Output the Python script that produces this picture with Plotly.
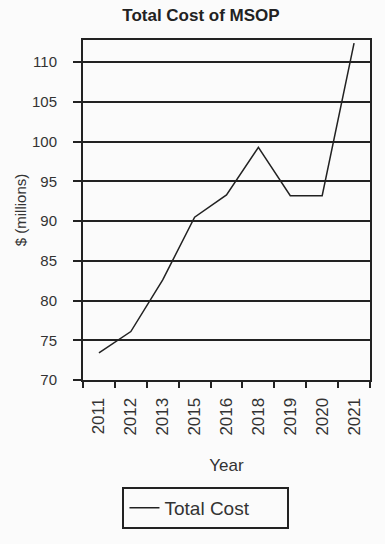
import plotly.graph_objects as go

# Fiscal years reported and total program cost ($ millions)
years = ["2011", "2012", "2013", "2015", "2016", "2018", "2019", "2020", "2021"]
total_cost = [73.4, 76.1, 82.6, 90.5, 93.3, 99.3, 93.2, 93.2, 112.4]
y_ticks = [70, 75, 80, 85, 90, 95, 100, 105, 110]

FONT = "Liberation Sans, Arial, sans-serif"

fig = go.Figure()
fig.add_trace(go.Scatter(
    x=years, y=total_cost, mode="lines", name="Total Cost",
    line=dict(color="#222222", width=1.5),
))

fig.update_layout(
    width=385, height=544,
    margin=dict(l=83, r=15, t=40, b=164),
    paper_bgcolor="#fbfbfb", plot_bgcolor="#fbfbfb",
    font=dict(family=FONT, color="#333333", size=15),
    title=dict(text="<b>Total Cost of MSOP</b>", xref="container", x=0.522,
               xanchor="center", y=0.984, yanchor="top",
               font=dict(size=17, color="#222222")),
    showlegend=True,
    legend=dict(orientation="h", xref="container", yref="container",
                x=0.535, xanchor="center", y=0.105, yanchor="top",
                bordercolor="#222222", borderwidth=2, bgcolor="#fbfbfb",
                entrywidth=118, entrywidthmode="pixels",
                font=dict(size=19, color="#333333")),
)

fig.update_xaxes(
    type="category", range=[-0.5, len(years) - 0.5],
    tickangle=-90, tickson="boundaries",
    ticks="outside", ticklen=6, tickcolor="#222222", tickwidth=1.5,
    ticklabelstandoff=9,
    showline=True, linecolor="#222222", linewidth=2, mirror=True,
    showgrid=False, tickfont=dict(size=17),
    title=dict(text="Year", font=dict(size=17), standoff=24),
)
fig.update_yaxes(
    range=[70, 112.8], tickvals=y_ticks,
    ticks="outside", ticklen=8, tickcolor="#222222", tickwidth=2,
    ticklabelstandoff=13,
    showline=True, linecolor="#222222", linewidth=2, mirror=True,
    showgrid=True, gridcolor="#222222", gridwidth=2,
    tickfont=dict(size=15),
    title=dict(text="$ (millions)", font=dict(size=15), standoff=2),
)

fig.write_html("out.html")
